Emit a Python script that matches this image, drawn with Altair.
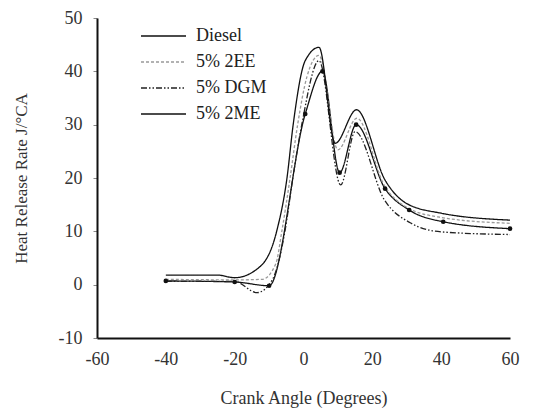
import altair as alt
import pandas as pd

# ---- data ----
series_order = ["Diesel", "5% 2EE", "5% DGM", "5% 2ME"]

diesel_x = [-40, -20, -10, 0.5, 5.5, 10.5, 15.3, 23.7, 30.7, 40.6, 60]
diesel_y = [0.7, 0.5, -0.2, 32, 40, 21, 30, 18, 14, 11.8, 10.5]

ee_x = [-40, -20, -12, -8, -6.3, -3.9, -1.7, 1, 4.5, 10, 15.5, 23.5, 30, 40, 60]
ee_y = [1.0, 0.9, 1.0, 4, 10, 20, 30, 39, 43, 25.3, 31.2, 18.6, 14.5, 12.6, 11.5]

dgm_x = [-40, -20, -13.5, -9, -5.4, -3.1, -0.5, 4.5, 10.8, 15, 23.5, 31, 40, 60]
dgm_y = [0.6, 0.6, -1.5, 1, 10, 20, 30, 42, 18.7, 28.7, 15.9, 11.6, 9.9, 9.4]

me_x = [-40, -25, -20, -12.6, -7.8, -4.8, -3, 0.5, 4.5, 9.2, 15.4, 23.7, 30, 40, 60]
me_y = [1.8, 1.8, 1.3, 3.4, 10, 20, 30, 42, 44.5, 26.5, 32.8, 19.6, 15.2, 13.4, 12.1]

x_ticks = [-60, -40, -20, 0, 20, 40, 60]
y_ticks = [-10, 0, 10, 20, 30, 40, 50]

rows = []
for name, xs, ys in [("Diesel", diesel_x, diesel_y), ("5% 2EE", ee_x, ee_y),
                     ("5% DGM", dgm_x, dgm_y), ("5% 2ME", me_x, me_y)]:
    for a, b in zip(xs, ys):
        rows.append({"series": name, "angle": a, "hrr": b})
df = pd.DataFrame(rows)

FONT = "Liberation Serif"

legend_kw = dict(
    title=None, orient="none", legendX=57.5, legendY=9, padding=0,
    symbolType="M-3,0H3", symbolSize=225, symbolStrokeWidth=1.3,
    labelOffset=23.5, labelFont=FONT, labelFontSize=18, labelColor="#222",
    rowPadding=8,
)

x_enc = alt.X("angle:Q", scale=alt.Scale(domain=[-60, 60], nice=False, zero=False),
              axis=alt.Axis(values=x_ticks, title="Crank Angle (Degrees)", ticks=False,
                            grid=False, labelFlush=False, labelOverlap=False,
                            labelExpr="'' + datum.value",
                            labelPadding=12, titlePadding=21))
y_enc = alt.Y("hrr:Q", scale=alt.Scale(domain=[-10, 50], nice=False, zero=False),
              axis=alt.Axis(values=y_ticks, title="Heat Release Rate J/°CA", grid=False,
                            tickSize=4, tickColor="#888", labelPadding=11,
                            labelExpr="'' + datum.value",
                            titlePadding=28, titleFontSize=17))

lines = alt.Chart(df).mark_line(interpolate="monotone", strokeWidth=1.3).encode(
    x=x_enc,
    y=y_enc,
    color=alt.Color("series:N", scale=alt.Scale(domain=series_order,
                                                range=["#111", "#999", "#222", "#111"]),
                    legend=alt.Legend(**legend_kw)),
    strokeDash=alt.StrokeDash("series:N",
                              scale=alt.Scale(domain=series_order,
                                              range=[[1, 0], [3, 2], [6, 2, 1.5, 2, 1.5, 2], [1, 0]]),
                              legend=alt.Legend(**legend_kw)),
)

points = alt.Chart(df).transform_filter(alt.datum.series == "Diesel").mark_point(
    filled=True, size=22, color="#111", opacity=1
).encode(x="angle:Q", y="hrr:Q")

chart = alt.layer(lines, points).properties(
    width=413, height=320,
    autosize=alt.AutoSizeParams(type="none"),
    padding={"left": 97, "top": 18, "right": 23, "bottom": 79},
).configure_view(stroke=None).configure_axis(
    domainColor="#111", domainWidth=2, labelFont=FONT, labelFontSize=18,
    labelColor="#333", titleFont=FONT, titleFontSize=18, titleColor="#333",
    titleFontWeight="normal",
)

chart.save("out.html", embed_options={"renderer": "svg", "actions": False})
